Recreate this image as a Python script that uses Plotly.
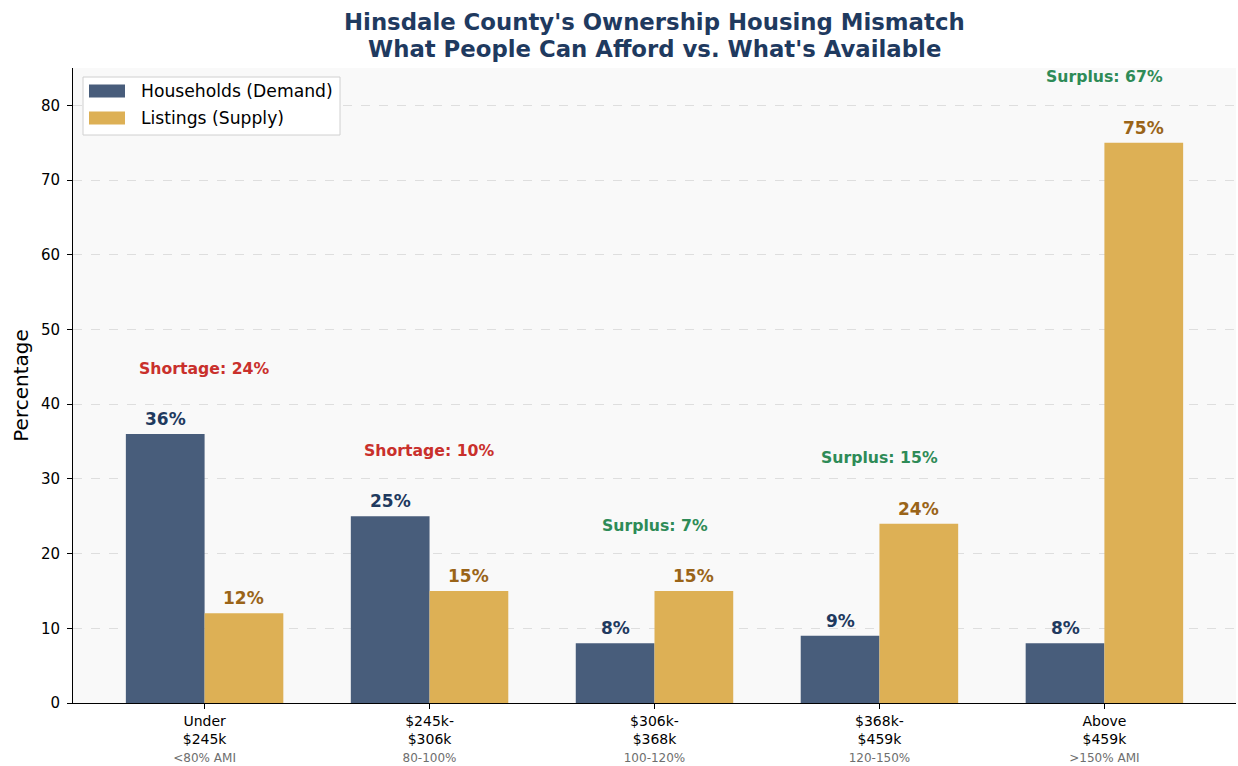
import plotly.graph_objects as go

categories = ["Under<br>$245k", "$245k-<br>$306k", "$306k-<br>$368k", "$368k-<br>$459k", "Above<br>$459k"]
ami_labels = ["&lt;80% AMI", "80-100%", "100-120%", "120-150%", "&gt;150% AMI"]
households = [36, 25, 8, 9, 8]
listings = [12, 15, 15, 24, 75]
series_names = ["Households (Demand)", "Listings (Supply)"]

FONT = "DejaVu Sans"
C_HH = "#485d7b"
C_LS = "#ddb055"
C_HH_TXT = "#1f3a5f"
C_LS_TXT = "#9a6418"
C_RED = "#c9302c"
C_GREEN = "#2e8b57"
C_TITLE = "#1f3a5f"

x = list(range(len(categories)))
w = 0.35

fig = go.Figure()
fig.add_trace(go.Bar(x=[i - w / 2 for i in x], y=households, width=w, name=series_names[0],
                     marker=dict(color=C_HH, line=dict(width=0)), showlegend=False))
fig.add_trace(go.Bar(x=[i + w / 2 for i in x], y=listings, width=w, name=series_names[1],
                     marker=dict(color=C_LS, line=dict(width=0)), showlegend=False))

annotations = []
for i in x:
    annotations.append(dict(x=i - w / 2, y=households[i], xref="x", yref="y", text=f"<b>{households[i]}%</b>",
                            showarrow=False, yanchor="bottom", yshift=3,
                            font=dict(family=FONT, size=17, color=C_HH_TXT)))
    annotations.append(dict(x=i + w / 2, y=listings[i], xref="x", yref="y", text=f"<b>{listings[i]}%</b>",
                            showarrow=False, yanchor="bottom", yshift=3,
                            font=dict(family=FONT, size=17, color=C_LS_TXT)))
    gap = households[i] - listings[i]
    if gap > 0:
        txt, col = f"<b>Shortage: {gap}%</b>", C_RED
    else:
        txt, col = f"<b>Surplus: {-gap}%</b>", C_GREEN
    annotations.append(dict(x=i, y=max(households[i], listings[i]) + 8.8, xref="x", yref="y", text=txt,
                            showarrow=False, yanchor="middle",
                            font=dict(family=FONT, size=15.7, color=col)))

# Layout helpers (pixel -> paper)
PLOT_TOP, PLOT_BOTTOM, PLOT_LEFT, PLOT_RIGHT = 68, 703, 73, 1236
ph = PLOT_BOTTOM - PLOT_TOP
pw = PLOT_RIGHT - PLOT_LEFT
def py(pix):
    return (PLOT_BOTTOM - pix) / ph
def px(pix):
    return (pix - PLOT_LEFT) / pw

title_lines = ["Hinsdale County's Ownership Housing Mismatch", "What People Can Afford vs. What's Available"]
for t, yy in zip(title_lines, [22, 49]):
    annotations.append(dict(x=0.5, y=py(yy), xref="paper", yref="paper", text=f"<b>{t}</b>", showarrow=False,
                            xanchor="center", yanchor="middle", font=dict(family=FONT, size=22.8, color=C_TITLE)))

# Custom legend (matplotlib style)
shapes = [dict(type="rect", xref="paper", yref="paper", x0=px(83), x1=px(340), y0=py(135), y1=py(77),
               fillcolor="white", line=dict(color="#d0d0d0", width=1), layer="above")]
for name, col, yc in zip(series_names, [C_HH, C_LS], [91, 118]):
    shapes.append(dict(type="rect", xref="paper", yref="paper", x0=px(89), x1=px(125), y0=py(yc + 6.5),
                       y1=py(yc - 6.5), fillcolor=col, line=dict(width=0), layer="above"))
    annotations.append(dict(x=px(139), y=py(yc), xref="paper", yref="paper", text=name, showarrow=False,
                            xanchor="left", yanchor="middle", font=dict(family=FONT, size=17.2, color="black")))

ticktext = [f"{c}<br><span style='font-size:12px;color:#6e6e6e'>{a}</span>" for c, a in zip(categories, ami_labels)]

fig.update_layout(
    width=1238, height=766,
    margin=dict(l=73, r=2, t=68, b=63, autoexpand=False),
    paper_bgcolor="white",
    plot_bgcolor="#f9f9f9",
    font=dict(family=FONT, size=15, color="black"),
    barmode="overlay",
    hovermode=False,
    showlegend=False,
    annotations=annotations,
    shapes=shapes,
    xaxis=dict(range=[-0.585, 4.585], tickmode="array", tickvals=x, ticktext=ticktext, automargin=False,
               showgrid=False, zeroline=False, showline=True, linecolor="black", linewidth=1,
               ticks="outside", ticklen=5, tickcolor="black", tickfont=dict(family=FONT, size=14, color="black")),
    yaxis=dict(range=[0, 85], tickmode="array", tickvals=list(range(0, 90, 10)), automargin=False,
               showgrid=True, gridcolor="#dedede", griddash="dash", gridwidth=1,
               zeroline=False, showline=True, linecolor="black", linewidth=1,
               ticks="outside", ticklen=5, tickcolor="black", ticklabelstandoff=4,
               tickfont=dict(family=FONT, size=15, color="black"),
               title=dict(text="Percentage", font=dict(family=FONT, size=20, color="black"), standoff=6)),
)

fig.write_html("out.html", config={"displayModeBar": False, "staticPlot": True},
               post_script="document.body.style.margin='0';document.body.style.overflow='hidden';")
